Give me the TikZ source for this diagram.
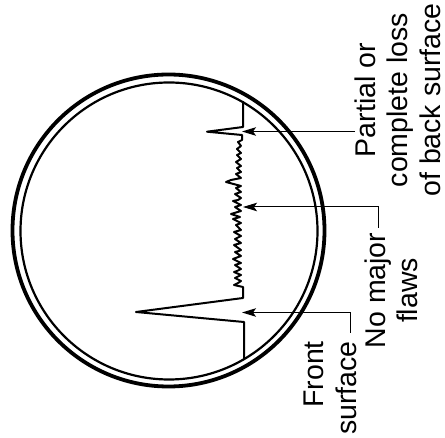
\documentclass[tikz,border=0pt]{standalone}
\usepackage{fontspec}
\setmainfont{Liberation Sans}
\usetikzlibrary{arrows.meta}
\begin{document}
\begin{tikzpicture}[x=1pt,y=-1pt,
  outerring/.style={line width=3.8pt},
  innerring/.style={line width=2.2pt},
  trace/.style={line width=2pt, line join=round, line cap=round},
  lead/.style={line width=1pt, -{Stealth[length=14pt,width=8.5pt,inset=3pt]}},
  lab/.style={font=\fontsize{28.5}{32.5}\selectfont, rotate=90, inner sep=0pt}]
\useasboundingbox (0,0) rectangle (445,438);
% screen
\draw[outerring] (168.5,230.5) circle [radius=156];
\draw[innerring] (169,231) circle [radius=148.5];
% trace
\draw[trace] (244,359) -- (244,322) -- (136,312) -- (243,298) -- (243,287)
  -- (234,285) -- (238,283) -- (241,281)
  -- (235,278) -- (241,275)
  -- (234,272) -- (237,271) -- (241,269)
  -- (235,265) -- (241,263)
  -- (233,259) -- (241,256)
  -- (235,252) -- (239,251) -- (241,250)
  -- (234,245) -- (241,243)
  -- (235,239) -- (241,236)
  -- (234,232) -- (241,230)
  -- (236,225) -- (241,223)
  -- (233,219) -- (240,217) -- (231,214) -- (241,211)
  -- (235,207) -- (241,205)
  -- (233,201) -- (238,200) -- (241,198)
  -- (235,194) -- (241,192)
  -- (236,188) -- (241,186)
  -- (226,182) -- (231,180) -- (241,178)
  -- (236,174) -- (241,172)
  -- (237,168) -- (241,166)
  -- (236,162) -- (241,159)
  -- (237,155) -- (241,153)
  -- (237,149) -- (241,146)
  -- (238,142) -- (242,140) -- (242,135)
  -- (207,131.7) -- (243,127) -- (243,102);
% arrow targets and leader ends
\coordinate (fsTip) at (242,312.5);
\coordinate (nmTip) at (243,207);
\coordinate (plTip) at (242,131.5);
\coordinate (fsEnd) at (350,333);
\coordinate (nmEnd) at (378.5,228);
\coordinate (plEnd) at (355,131.5);
% labels
\node[lab, align=right, anchor=east] (front) at (330.5,341) {Front\\surface};
\node[lab, align=center] (flaws) at (391.5,290.5) {No major\\flaws};
\node[lab, align=center] (partial) at (397.5,100) {Partial or\\complete loss\\of back surface};
% leaders
\draw[lead] (fsEnd) |- (fsTip);
\draw[lead] (nmEnd) |- (nmTip);
\draw[lead] (plEnd) -- (plTip);
\end{tikzpicture}
\end{document}
